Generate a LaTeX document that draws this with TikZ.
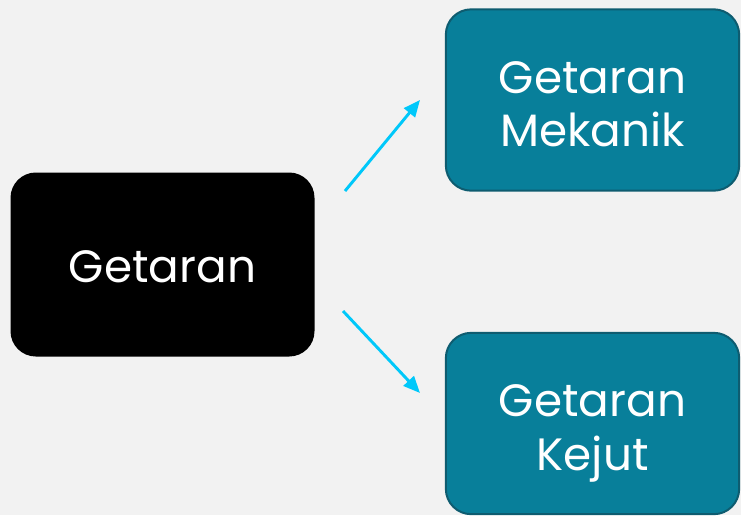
\documentclass[tikz,border=0pt]{standalone}
\usepackage{fontspec}
\setmainfont{Poppins}
\usetikzlibrary{arrows.meta}
\definecolor{bgGray}{RGB}{242,242,242}
\definecolor{tealFill}{RGB}{8,127,154}
\definecolor{tealLine}{RGB}{14,92,112}
\definecolor{arrowCyan}{RGB}{0,200,250}
\tikzset{every picture/.style={line width=0.75pt}}
\tikzset{
  mainbox/.style={rounded corners=19pt,fill=black,text=white,align=center,
    minimum width=228pt,minimum height=138pt,text height=27.5pt,text depth=0pt,
    font=\fontsize{34}{40}\selectfont},
  subbox/.style={rounded corners=19pt,fill=tealFill,draw=tealLine,line width=1.5pt,
    text=white,align=center,minimum width=220pt,minimum height=136pt,
    text height=70pt,text depth=0pt,font=\fontsize{34}{40}\selectfont},
  linkarrow/.style={draw=arrowCyan,line width=2.2pt,-{Triangle[length=12.5pt,width=10.5pt]}}
}
\begin{document}
\begin{tikzpicture}[x=0.75pt,y=0.75pt,yscale=-1]
%background, sets the page size
\fill [bgGray] (0,0) rectangle (741,515);
\useasboundingbox (0,0) rectangle (741,515);

%Shape: main box
\node [mainbox] (getaran) at (162.5,264.5) {Getaran};
%Shape: upper box
\node [subbox] (mekanik) at (592.5,100) {Getaran\\Mekanik};
%Shape: lower box
\node [subbox] (kejut) at (592.5,423.5) {Getaran\\Kejut};

%arrow ends
\coordinate (upFrom) at (345,191);
\coordinate (upTo) at (420,100);
\coordinate (downFrom) at (343,311);
\coordinate (downTo) at (420,393);

%Straight Lines
\draw [linkarrow] (upFrom) -- (upTo);
\draw [linkarrow] (downFrom) -- (downTo);

\end{tikzpicture}
\end{document}
